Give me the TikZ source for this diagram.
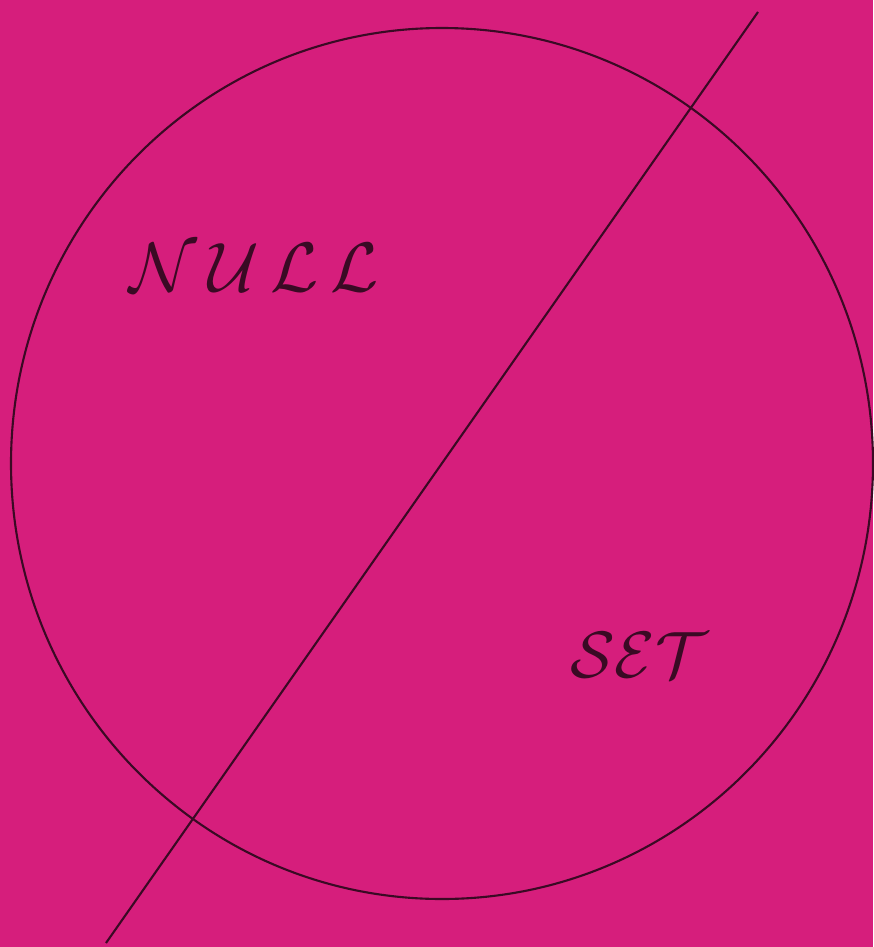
\documentclass[tikz,border=0pt]{standalone}
\usepackage{xcolor}
\definecolor{setpink}{HTML}{D61E7C}
\definecolor{setink}{HTML}{3A0A24}
\usepackage{tikz}
\usetikzlibrary{positioning,calc}

\begin{document}
\begin{tikzpicture}[
  x=0.02cm, y=-0.02cm,
  ink/.style={draw=setink, line width=1.2pt},
  word/.style={text=setink, font=\fontsize{40}{48}\selectfont, inner sep=0pt},
]
  % paper
  \fill[setpink] (0,0) rectangle (873,947);
  \useasboundingbox (0,0) rectangle (873,947);

  % the set
  \draw[ink] (442,463.5) ellipse [x radius=431, y radius=435.5];

  % slash
  \coordinate (slash-top) at (758,12);
  \coordinate (slash-bot) at (106,943);
  \draw[ink] (slash-top) -- (slash-bot);

  % labels
  \node[word] (null) at (254,268) {\scalebox{1.6}{$\mathcal{N}\,\mathcal{U}\,\mathcal{L}\,\mathcal{L}$}};
  \node[word] (set) at (639,655) {\scalebox{1.5}{$\mathcal{S}\mathcal{E}\mathcal{T}$}};
\end{tikzpicture}
\end{document}
